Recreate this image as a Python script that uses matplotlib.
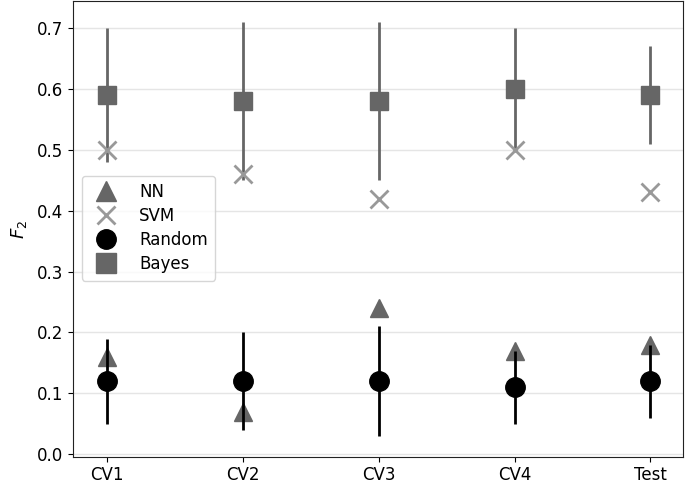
import numpy as np
from matplotlib import pyplot as plt

# Data
labels = ['CV1', 'CV2', 'CV3', 'CV4', 'Test']
nn = [0.16, 0.07, 0.24, 0.17, 0.18]
svm = [0.50, 0.46, 0.42, 0.50, 0.43]
random_mid = [0.12, 0.12, 0.12, 0.11, 0.12]
random_lo = [0.05, 0.04, 0.03, 0.05, 0.06]
random_hi = [0.19, 0.20, 0.21, 0.17, 0.18]
bayes_mid = [0.59, 0.58, 0.58, 0.60, 0.59]
bayes_lo = [0.48, 0.45, 0.45, 0.50, 0.51]
bayes_hi = [0.70, 0.71, 0.71, 0.70, 0.67]

x = np.arange(len(labels))

fig = plt.figure(figsize=(6.85, 4.82), dpi=100)
ax = fig.add_axes([0.107, 0.0525, 0.89, 0.945])

ax.yaxis.grid(True, color='#e5e5e5', linewidth=1.0, zorder=0)
ax.set_axisbelow(True)

# NN markers
ax.plot(x, nn, '^', color='#666666', markersize=13, linestyle='none', zorder=3)

# Random with error bars
r_err = [np.array(random_mid) - np.array(random_lo), np.array(random_hi) - np.array(random_mid)]
ax.errorbar(x, random_mid, yerr=r_err, fmt='o', color='black', ecolor='black',
			elinewidth=2, markersize=14, capsize=0, zorder=4)

# Bayes with error bars
b_err = [np.array(bayes_mid) - np.array(bayes_lo), np.array(bayes_hi) - np.array(bayes_mid)]
ax.errorbar(x, bayes_mid, yerr=b_err, fmt='s', color='#666666', ecolor='#666666',
			elinewidth=2, markersize=13, capsize=0, zorder=4)

# SVM markers
ax.plot(x, svm, 'x', color='#999999', markersize=13, markeredgewidth=2, linestyle='none', zorder=5)

# Legend handles without error bar lines
h_nn = plt.Line2D([], [], marker='^', color='#666666', linestyle='none', markersize=14)
h_svm = plt.Line2D([], [], marker='x', color='#999999', linestyle='none', markersize=13, markeredgewidth=2)
h_rand = plt.Line2D([], [], marker='o', color='black', linestyle='none', markersize=14)
h_bayes = plt.Line2D([], [], marker='s', color='#666666', linestyle='none', markersize=14)
ax.legend([h_nn, h_svm, h_rand, h_bayes], ['NN', 'SVM', 'Random', 'Bayes'],
		  loc='upper left', bbox_to_anchor=(0.0, 0.635), fontsize=12,
		  handletextpad=1.0, borderpad=0.45, labelspacing=0.36)

ax.set_xticks(x)
ax.set_xticklabels(labels, fontsize=12)
ax.set_xlim(-0.25, 4.24)
ax.set_ylim(-0.004, 0.744)
ax.set_yticks([0.0, 0.1, 0.2, 0.3, 0.4, 0.5, 0.6, 0.7])
ax.tick_params(axis='y', labelsize=12)
ax.set_ylabel('$F_2$', fontsize=13, labelpad=6)

for spine in ax.spines.values():
	spine.set_color('#222222')

fig.savefig('out.png', dpi=100)
